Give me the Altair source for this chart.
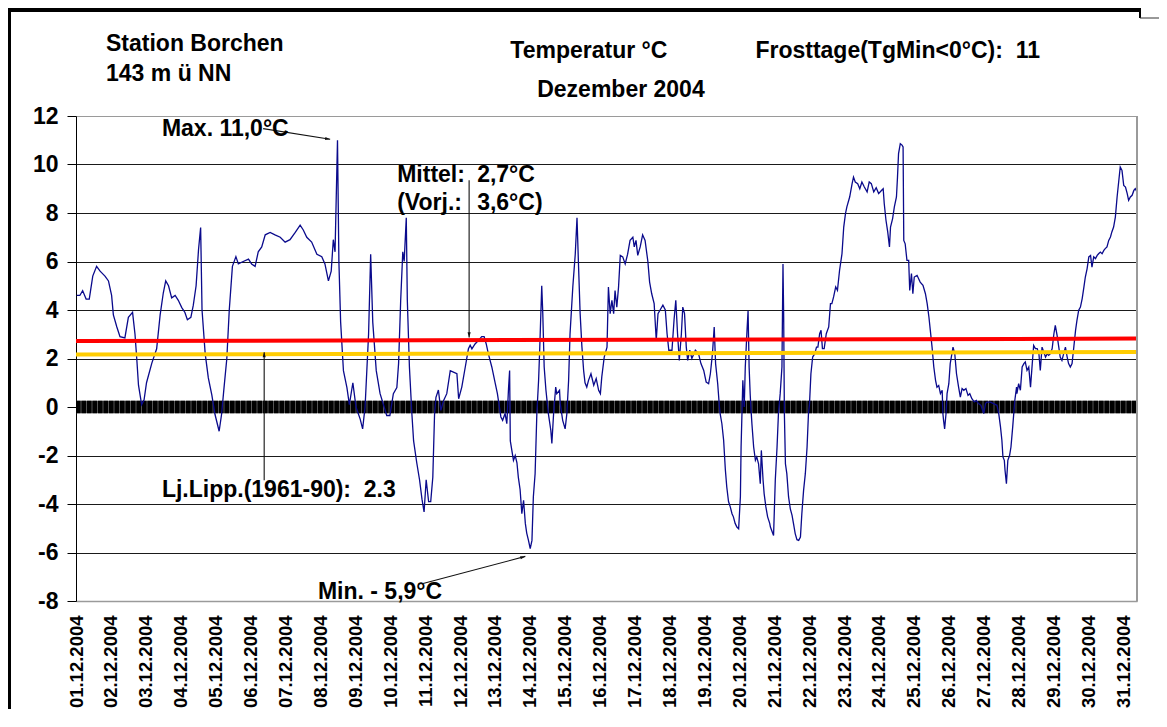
import altair as alt
import pandas as pd

FONT = "Liberation Sans"

# ---- hourly temperature trace (day offset from 01.12.2004 00:00, °C) ----
dec01_09 = [
    (0.02, 4.6), (0.11, 4.6), (0.19, 4.8), (0.29, 4.45), (0.38, 4.45), (0.48, 5.4), (0.59, 5.8),
    (0.69, 5.6), (0.83, 5.4), (0.93, 5.2), (1.02, 4.6), (1.07, 3.8), (1.17, 3.3), (1.26, 2.9),
    (1.40, 2.85), (1.50, 3.7), (1.62, 3.9), (1.69, 3.0), (1.74, 2.0), (1.79, 0.9), (1.88, 0.1),
    (1.95, 0.3), (2.02, 1.0), (2.17, 1.8), (2.31, 2.4), (2.41, 3.8), (2.50, 4.7), (2.57, 5.2),
    (2.65, 5.0), (2.74, 4.5), (2.84, 4.6), (2.93, 4.4), (3.03, 4.1), (3.12, 3.9), (3.19, 3.6),
    (3.29, 3.7), (3.36, 4.2), (3.44, 5.0), (3.51, 6.5), (3.57, 7.4), (3.61, 4.0), (3.70, 2.2),
    (3.79, 1.2), (3.89, 0.5), (3.98, -0.3), (4.10, -1.0), (4.17, -0.3), (4.24, 0.8), (4.32, 2.0),
    (4.39, 4.0), (4.48, 5.8), (4.58, 6.2), (4.65, 5.9), (4.79, 6.0), (4.94, 6.1), (5.03, 5.9),
    (5.13, 5.8), (5.22, 6.4), (5.32, 6.6), (5.42, 7.1), (5.56, 7.2), (5.70, 7.1), (5.85, 7.0),
    (5.99, 6.8), (6.13, 6.9), (6.28, 7.2), (6.42, 7.5), (6.51, 7.3), (6.61, 7.0), (6.75, 6.8),
    (6.90, 6.3), (7.04, 6.2), (7.13, 5.9), (7.23, 5.2), (7.31, 5.6), (7.37, 6.9), (7.42, 6.4),
    (7.49, 11.0), (7.53, 6.0), (7.58, 3.5), (7.66, 1.5), (7.76, 0.8), (7.83, 0.1), (7.93, 1.0),
    (8.02, 0.0), (8.14, -0.5), (8.21, -0.9), (8.28, 0.0), (8.38, 3.0), (8.44, 6.3), (8.50, 3.5),
    (8.60, 1.5),
]
dec09_20 = [
    (8.71, 0.55), (8.90, -0.35), (8.99, -0.35), (9.09, 0.55), (9.19, 0.8), (9.24, 1.8), (9.30, 4.4),
    (9.36, 6.4), (9.40, 6.0), (9.46, 7.8), (9.49, 4.4), (9.55, 1.65), (9.57, 1.1), (9.62, -0.27),
    (9.67, -1.4), (9.76, -2.3), (9.84, -3.0), (9.91, -3.8), (9.97, -4.33), (10.03, -3.0),
    (10.10, -3.9), (10.16, -3.9), (10.22, -2.9), (10.27, -0.3), (10.31, 0.4), (10.38, 0.7),
    (10.45, -0.14), (10.53, 0.27), (10.62, 0.55), (10.72, 1.5), (10.81, 1.44), (10.91, 1.37),
    (10.96, 0.34), (11.05, 0.82), (11.15, 1.65), (11.24, 2.4), (11.29, 2.55), (11.34, 2.4),
    (11.43, 2.6), (11.53, 2.75), (11.62, 2.9), (11.69, 2.9), (11.75, 2.6), (11.81, 2.2),
    (11.91, 1.65), (12.01, 0.96), (12.07, 0.55), (12.17, -0.41), (12.22, -0.55), (12.29, -0.27),
    (12.34, -0.69), (12.39, 0.8), (12.42, 1.5), (12.44, -1.4), (12.53, -2.2), (12.58, -2.0),
    (12.63, -2.3), (12.67, -2.9), (12.72, -3.4), (12.77, -4.4), (12.82, -3.85), (12.87, -4.8),
    (12.91, -5.2), (12.96, -5.5), (13.01, -5.84), (13.06, -5.5), (13.10, -3.7), (13.15, -2.75),
    (13.20, -0.27), (13.25, 1.1), (13.28, 2.3), (13.34, 5.0), (13.37, 3.85), (13.41, 1.65),
    (13.46, 0.7), (13.53, -0.27), (13.60, -0.96), (13.63, -1.5), (13.68, -0.27), (13.74, 0.82),
    (13.77, 0.55), (13.85, 0.69), (13.87, 0.14), (13.94, -0.55), (14.01, -0.9), (14.06, -0.27),
    (14.11, 1.1), (14.15, 3.0), (14.23, 4.95), (14.30, 6.3), (14.35, 7.8), (14.39, 6.0),
    (14.44, 3.85), (14.49, 2.5), (14.54, 1.5), (14.58, 1.0), (14.63, 0.82), (14.68, 1.1),
    (14.75, 1.37), (14.83, 0.9), (14.90, 1.17), (14.97, 0.69), (15.02, 0.55), (15.06, 1.24),
    (15.13, 2.06), (15.21, 2.47), (15.25, 4.95), (15.30, 3.85), (15.35, 4.4), (15.40, 3.85),
    (15.44, 4.8), (15.49, 4.12), (15.54, 4.95), (15.59, 6.25), (15.66, 6.19), (15.73, 5.9),
    (15.80, 6.3), (15.87, 6.87), (15.95, 7.0), (15.99, 6.6), (16.04, 6.87), (16.09, 6.25),
    (16.16, 6.6), (16.23, 7.1), (16.30, 6.87), (16.38, 6.0), (16.43, 5.15), (16.49, 4.67),
    (16.56, 4.26), (16.62, 2.75), (16.67, 3.85), (16.73, 4.0), (16.81, 4.2), (16.88, 4.0),
    (16.93, 3.02), (16.98, 2.34), (17.07, 2.34), (17.13, 3.6), (17.18, 4.4), (17.23, 3.02),
    (17.28, 1.92), (17.34, 3.02), (17.38, 4.12), (17.43, 3.85), (17.48, 2.47), (17.52, 1.92),
    (17.58, 2.34), (17.64, 2.0), (17.74, 2.34), (17.83, 2.2), (17.90, 1.79), (17.98, 1.51),
    (18.05, 1.03), (18.12, 0.96), (18.17, 1.37), (18.23, 2.2), (18.28, 3.3), (18.32, 1.79),
    (18.38, 0.96), (18.43, 0.0), (18.45, -0.27), (18.50, -0.69), (18.55, -1.37), (18.60, -2.6),
    (18.64, -3.3), (18.69, -3.9), (18.74, -4.12), (18.79, -4.4), (18.83, -4.53), (18.88, -4.8),
    (18.93, -4.95), (18.98, -5.02), (19.03, -3.7), (19.05, -1.65), (19.10, 1.1), (19.14, 0.0),
    (19.17, 1.65), (19.22, 3.16), (19.25, 3.97), (19.28, 1.65), (19.31, 0.55), (19.33, 0.0),
    (19.36, -0.69), (19.41, -1.65), (19.46, -2.2), (19.50, -2.06), (19.55, -2.34), (19.60, -3.16),
    (19.63, -1.79), (19.68, -3.02), (19.71, -3.57), (19.76, -4.12), (19.81, -4.53), (19.87, -4.8),
]
dec20_31 = [
    (19.89, -4.95), (19.98, -5.3), (20.03, -3.0), (20.08, -1.65), (20.12, -0.27), (20.17, 0.55),
    (20.22, 1.65), (20.25, 5.9), (20.27, 3.71), (20.29, -0.27), (20.32, -2.34), (20.36, -2.75),
    (20.41, -3.71), (20.46, -4.2), (20.51, -4.47), (20.55, -4.8), (20.60, -5.22), (20.65, -5.47),
    (20.70, -5.5), (20.75, -5.36), (20.79, -4.4), (20.84, -3.44), (20.89, -2.75), (20.94, -1.65),
    (20.98, -0.27), (21.01, 0.14), (21.05, 1.37), (21.10, 2.06), (21.16, 2.2), (21.21, 2.47),
    (21.25, 2.47), (21.30, 3.02), (21.34, 3.16), (21.38, 2.41), (21.43, 2.41), (21.49, 3.02),
    (21.56, 3.3), (21.61, 4.26), (21.65, 4.26), (21.70, 4.54), (21.76, 4.95), (21.81, 4.81),
    (21.87, 5.63), (21.94, 6.32), (21.99, 7.42), (22.04, 7.97), (22.08, 8.25), (22.16, 8.66),
    (22.23, 9.21), (22.27, 9.48), (22.32, 9.28), (22.39, 9.21), (22.45, 9.0), (22.51, 9.28),
    (22.58, 9.07), (22.66, 8.87), (22.72, 9.28), (22.78, 9.21), (22.85, 8.87), (22.92, 9.04),
    (22.99, 8.8), (23.07, 8.93), (23.12, 9.0), (23.15, 8.39), (23.20, 7.7), (23.25, 7.22),
    (23.30, 6.6), (23.33, 7.42), (23.39, 7.77), (23.44, 8.25), (23.50, 8.66), (23.53, 9.48),
    (23.56, 10.45), (23.61, 10.86), (23.66, 10.8), (23.69, 10.72), (23.71, 6.87), (23.75, 6.73),
    (23.80, 6.05), (23.85, 6.05), (23.88, 4.81), (23.93, 5.5), (23.97, 4.67), (24.01, 5.36),
    (24.09, 5.43), (24.18, 5.15), (24.26, 5.02), (24.33, 4.67), (24.38, 4.26), (24.43, 3.71),
    (24.47, 3.16), (24.52, 2.47), (24.57, 1.65), (24.62, 1.1), (24.66, 0.82), (24.71, 0.89),
    (24.76, 0.55), (24.81, 0.69), (24.83, -0.27), (24.85, -0.55), (24.88, -0.9), (24.92, -0.27),
    (24.95, 0.55), (25.00, 0.96), (25.04, 1.79), (25.12, 2.47), (25.17, 2.2), (25.22, 1.37),
    (25.28, 0.82), (25.33, 0.41), (25.38, 0.76), (25.43, 0.69), (25.49, 0.76), (25.55, 0.48),
    (25.60, 0.55), (25.66, 0.34), (25.73, 0.21), (25.79, 0.27), (25.85, 0.14), (25.92, 0.07),
    (26.00, -0.27), (26.05, 0.14), (26.09, 0.2), (26.19, 0.2), (26.28, 0.14), (26.38, 0.07),
    (26.43, -0.27), (26.48, -0.82), (26.52, -1.37), (26.55, -2.06), (26.59, -2.2), (26.61, -2.61),
    (26.65, -3.16), (26.69, -2.2), (26.74, -2.0), (26.78, -1.65), (26.83, -0.82), (26.86, -0.27),
    (26.89, 0.27), (26.94, 0.82), (26.95, 0.55), (27.00, 0.96), (27.05, 0.69), (27.10, 1.65),
    (27.15, 1.79), (27.19, 1.86), (27.24, 1.51), (27.29, 1.65), (27.34, 0.82), (27.39, 1.79),
    (27.43, 2.54), (27.48, 2.41), (27.53, 2.41), (27.58, 2.2), (27.62, 1.51), (27.67, 2.47),
    (27.72, 2.27), (27.77, 2.06), (27.82, 2.2), (27.86, 2.13), (27.91, 2.2), (27.96, 2.41),
    (28.01, 3.02), (28.05, 3.37), (28.10, 2.96), (28.15, 2.47), (28.19, 2.06), (28.24, 1.92),
    (28.29, 2.2), (28.34, 2.47), (28.39, 2.06), (28.43, 1.79), (28.48, 1.65), (28.53, 1.79),
    (28.58, 2.47), (28.63, 3.16), (28.67, 3.57), (28.72, 3.99), (28.77, 4.12), (28.82, 4.47),
    (28.87, 4.95), (28.91, 5.36), (28.96, 5.7), (29.01, 6.19), (29.06, 6.25), (29.10, 5.77),
    (29.15, 6.19), (29.20, 6.12), (29.25, 6.25), (29.29, 6.32), (29.34, 6.39), (29.39, 6.32),
    (29.44, 6.46), (29.48, 6.53), (29.53, 6.6), (29.58, 6.87), (29.63, 7.01), (29.67, 7.22),
    (29.72, 7.42), (29.77, 7.83), (29.82, 8.66), (29.87, 9.35), (29.91, 9.9), (29.96, 9.76),
    (30.01, 9.14), (30.06, 9.07), (30.11, 8.8), (30.15, 8.52), (30.20, 8.66), (30.25, 8.73),
    (30.30, 8.93), (30.34, 9.0), (30.39, 8.87),
]

x_end = 30.39
date_labels = [
    "01.12.2004", "02.12.2004", "03.12.2004", "04.12.2004", "05.12.2004", "06.12.2004",
    "07.12.2004", "08.12.2004", "09.12.2004", "10.12.2004", "11.12.2004", "12.12.2004",
    "13.12.2004", "14.12.2004", "15.12.2004", "16.12.2004", "17.12.2004", "18.12.2004",
    "19.12.2004", "20.12.2004", "21.12.2004", "22.12.2004", "23.12.2004", "24.12.2004",
    "25.12.2004", "26.12.2004", "27.12.2004", "28.12.2004", "29.12.2004", "30.12.2004",
    "31.12.2004",
]
y_ticks = [-8, -6, -4, -2, 0, 2, 4, 6, 8, 10, 12]

# mean lines as drawn (start / end)
mean_days = [0, x_end]
mean_2004 = [2.72, 2.82]       # red: Mittel 2,7 °C
mean_longterm = [2.16, 2.27]   # yellow: Lj.Lipp. 2.3

# annotation texts (day, temp, text)
note_text = ["Max. 11,0°C", "Mittel:", "2,7°C", "(Vorj.:", "3,6°C)",
             "Lj.Lipp.(1961-90):\u00a0 2.3", "Min. - 5,9°C"]
note_day = [2.46, 9.2, 11.49, 9.2, 11.49, 2.46, 6.93]
note_temp = [11.16, 9.27, 9.27, 8.11, 8.11, -3.72, -7.93]

head_text = ["Station Borchen", "143 m ü NN", "Temperatur °C",
             "Frosttage(TgMin<0°C):\u00a0 11", "Dezember 2004"]
head_day = [0.86, 0.86, 12.44, 19.46, 13.21]
head_temp = [14.66, 13.45, 14.4, 14.4, 12.77]

# arrows: start (day, temp) -> end (day, temp), head angle
arrow_x1 = [5.36, 11.26, 5.39, 9.94]
arrow_y1 = [11.48, 9.35, -3.02, -7.28]
arrow_x2 = [7.28, 11.26, 5.39, 12.87]
arrow_y2 = [11.04, 2.87, 2.26, -6.16]
arrow_ang = [99, 180, 0, 75]

# ---------------------------------------------------------------------------
temp_df = pd.DataFrame(dec01_09 + dec09_20 + dec20_31, columns=["day", "temp"])
red_df = pd.DataFrame({"day": mean_days, "temp": mean_2004})
yel_df = pd.DataFrame({"day": mean_days, "temp": mean_longterm})
note_df = pd.DataFrame({"day": note_day, "temp": note_temp, "label": note_text})
head_df = pd.DataFrame({"day": head_day, "temp": head_temp, "label": head_text})
arrow_df = pd.DataFrame({"day": arrow_x1, "temp": arrow_y1, "day2": arrow_x2,
                         "temp2": arrow_y2, "ang": arrow_ang})
tip_df = pd.DataFrame({"day": arrow_x2, "temp": arrow_y2, "ang": arrow_ang})
zero_df = pd.DataFrame({"day": [0], "day2": [x_end], "temp": [0]})
frame_df = pd.DataFrame({"day": [x_end], "temp": [y_ticks[0]], "temp2": [y_ticks[-1]]})

label_js = "[" + ",".join("'" + s + "'" for s in date_labels) + "][datum.value]"

x_enc = alt.X(
    "day:Q",
    scale=alt.Scale(domain=[0, x_end], nice=False, zero=False),
    axis=alt.Axis(
        values=list(range(len(date_labels))), labelExpr=label_js, labelAngle=-90,
        labelFont=FONT, labelFontWeight="bold", labelFontSize=18.5, labelColor="black",
        labelPadding=14, ticks=False, tickSize=0, grid=False, domainColor="#9a9a9a",
        domainWidth=1.5, labelOverlap=False, labelBound=False, labelFlush=False, title=None,
    ),
)
y_enc = alt.Y(
    "temp:Q",
    scale=alt.Scale(domain=[y_ticks[0], y_ticks[-1]], nice=False, zero=False),
    axis=alt.Axis(
        values=y_ticks, labelExpr="'' + datum.value", labelFont=FONT,
        labelFontWeight="bold", labelFontSize=23, labelColor="black", labelPadding=9,
        tickSize=9, tickColor="black", domainColor="black", domainWidth=1, grid=True,
        gridColor={"condition": {"test": "datum.value == 12 || datum.value == -8",
                                 "value": "#9a9a9a"}, "value": "#1a1a1a"},
        gridWidth=1, title=None, labelFlush=False,
    ),
)

zero_base = alt.Chart(zero_df).mark_rule(
    color="#555555", strokeWidth=12.5, strokeCap="butt"
).encode(x=x_enc, x2="day2:Q", y=y_enc)
zero_band = alt.Chart(zero_df).mark_rule(
    color="black", strokeWidth=12.5, strokeDash=[4.5, 1], strokeCap="butt"
).encode(x=x_enc, x2="day2:Q", y=y_enc)

temp_line = alt.Chart(temp_df).mark_line(color="#0a0a8c", strokeWidth=1.3).encode(
    x=x_enc, y=y_enc, order="day:Q")

red_line = alt.Chart(red_df).mark_line(color="#ff0000", strokeWidth=4).encode(x=x_enc, y=y_enc)
yel_line = alt.Chart(yel_df).mark_line(color="#ffcc00", strokeWidth=4).encode(x=x_enc, y=y_enc)

right_frame = alt.Chart(frame_df).mark_rule(color="#9a9a9a", strokeWidth=2).encode(
    x=x_enc, y=y_enc, y2="temp2:Q")

arrow_lines = alt.Chart(arrow_df).mark_rule(color="#111111", strokeWidth=1.1).encode(
    x=x_enc, y=y_enc, x2="day2:Q", y2="temp2:Q")
arrow_tips = alt.Chart(tip_df).mark_point(
    shape="M0,0L-0.5,1.6L0.5,1.6Z", filled=True, color="#111111", size=40, opacity=1
).encode(x=x_enc, y=y_enc, angle=alt.Angle("ang:Q", scale=None))

notes = alt.Chart(note_df).mark_text(
    font=FONT, fontWeight="bold", fontSize=23, align="left", baseline="alphabetic",
    color="black"
).encode(x=x_enc, y=y_enc, text="label:N")

heads = alt.Chart(head_df).mark_text(
    font=FONT, fontWeight="bold", fontSize=23, align="left", baseline="alphabetic",
    color="black"
).encode(x=x_enc, y=y_enc, text="label:N")

# page frame (document border around the chart)
top_border = alt.Chart(zero_df).mark_rule(color="black", strokeWidth=4).encode(
    x=alt.value(-70), x2=alt.value(1064), y=alt.value(-106))
top_right_post = alt.Chart(zero_df).mark_rule(color="black", strokeWidth=2).encode(
    x=alt.value(1064), y=alt.value(-110), y2=alt.value(-98))
top_right_line = alt.Chart(zero_df).mark_rule(color="#333333", strokeWidth=1).encode(
    x=alt.value(1064), x2=alt.value(1090), y=alt.value(-98))
left_border = alt.Chart(zero_df).mark_rule(color="black", strokeWidth=3).encode(
    x=alt.value(-66.5), y=alt.value(-108), y2=alt.value(600))

chart = alt.layer(
    zero_base, zero_band, temp_line, red_line, yel_line, right_frame, arrow_lines, arrow_tips,
    notes, heads, top_border, top_right_post, top_right_line, left_border,
).properties(
    width=1061, height=485,
    autosize=alt.AutoSizeParams(type="none"),
    padding={"left": 68, "top": 108, "right": 22, "bottom": 108},
).configure_view(stroke=None).configure(background="white")

chart.save("out.html", embed_options={"renderer": "svg", "actions": False})
